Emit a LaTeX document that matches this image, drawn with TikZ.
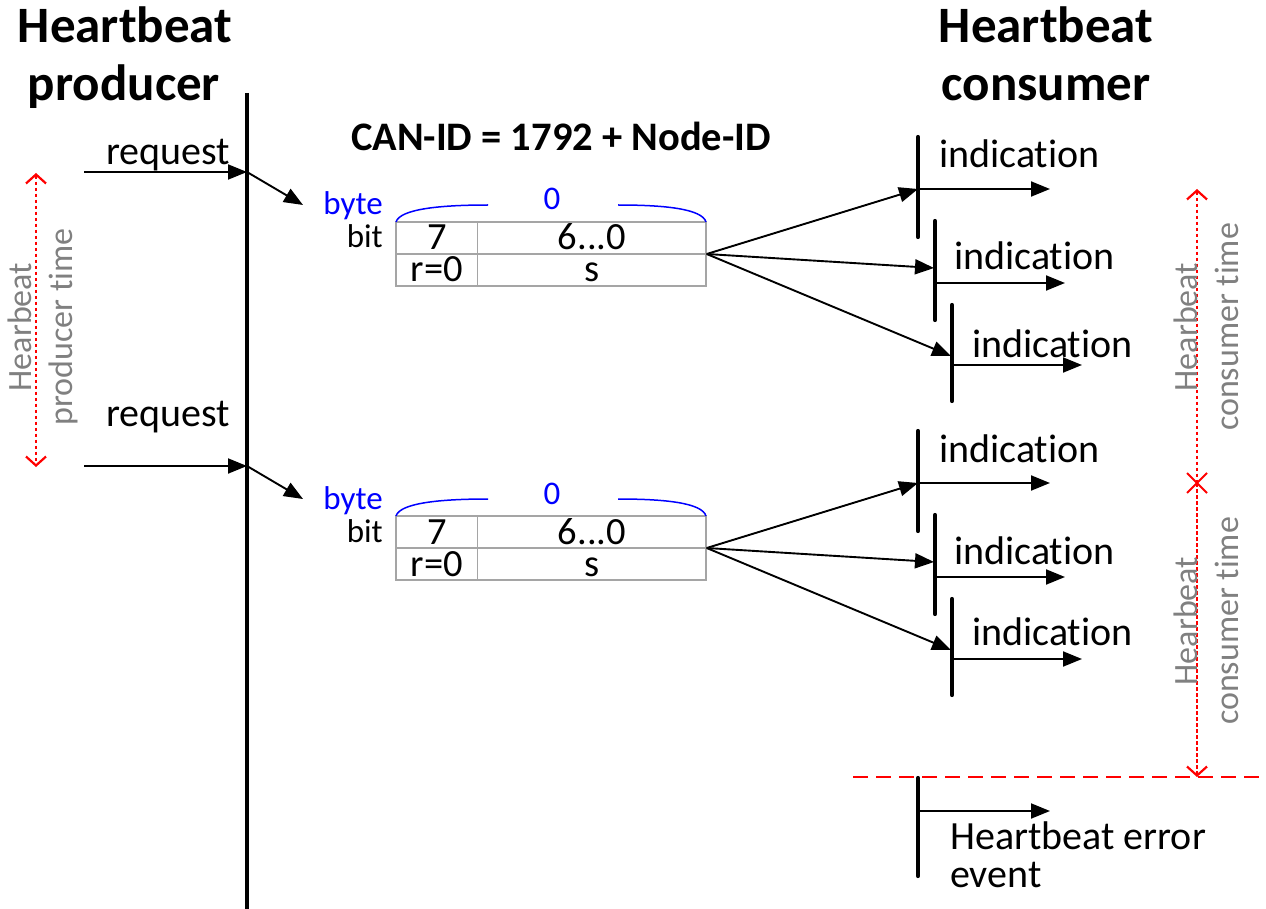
\documentclass[tikz,border=0pt]{standalone}
\usepackage{fontspec}
\setmainfont{Carlito}[Ligatures={NoCommon,NoContextual}, Contextuals=NoAlternate]
\usetikzlibrary{arrows.meta}
\definecolor{hbgray}{RGB}{128,128,128}
\definecolor{cellgray}{RGB}{165,165,165}
\definecolor{hbred}{RGB}{255,0,0}
\definecolor{hbblue}{RGB}{0,0,255}
\tikzset{hbbarb/.tip={Straight Barb[length=9pt,width=20pt]}}

\begin{document}
\begin{tikzpicture}[x=1pt,y=-1pt,
  title/.style={font=\fontsize{51}{54}\selectfont\bfseries, inner sep=0pt, anchor=base},
  lbl/.style={font=\fontsize{40}{46}\selectfont, inner sep=0pt},
  small/.style={font=\fontsize{33}{38}\selectfont, inner sep=0pt},
  celltext/.style={font=\fontsize{38.5}{44}\selectfont, inner sep=0pt, anchor=base, text height=22pt, text depth=0pt},
  dimtext/.style={font=\fontsize{34}{41}\selectfont, text=hbgray, align=center, rotate=90, inner sep=0pt},
  msg/.style={line width=1.9pt, -{Triangle[length=19pt,width=15pt]}},
  lifeline/.style={line width=4.2pt, line cap=round},
  cellframe/.style={draw=cellgray, line width=1.4pt, inner sep=0pt},
  cellline/.style={draw=cellgray, line width=1.4pt},
  bracket/.style={draw=hbblue, line width=1.5pt},
  span/.style={draw=hbred, line width=2.2pt, dash pattern=on 3.5pt off 2.5pt},
]
\useasboundingbox (0,0) rectangle (1266,909);

% column titles
\node[title] (ptitle1) at (125,43) {Heartbeat};
\node[title] (ptitle2) at (124,101) {producer};
\node[title] (ctitle1) at (1046,43) {Heartbeat};
\node[title] (ctitle2) at (1046,101) {consumer};

\node[font=\fontsize{40.5}{46}\selectfont\bfseries, inner sep=0pt, anchor=base] (canid) at (561,151) {CAN-ID = 1792 + Node-ID};

% producer lifeline
\coordinate (ptop) at (247,93);
\coordinate (pbot) at (247,909);
\draw[line width=4pt] (ptop) -- (pbot);

% two heartbeat cycles
\foreach \g/\dy/\dq/\dl in {1/0/165/0, 2/294/426/288} {
  \coordinate (req\g) at (84,172+\dy);
  \coordinate (prod\g) at (247,172+\dy);
  \coordinate (send\g) at (303,205+\dy);
  \draw[msg] (req\g) -- (prod\g);
  \draw[msg] (prod\g) -- (send\g);
  \node[lbl, anchor=base] (reqlbl\g) at (168,\dq) {request};

  % frame layout
  \node[small, anchor=base east, text=hbblue] (byte\g) at (383,215+\dy) {byte};
  \node[small, anchor=base east] (bit\g) at (383,248+\dy) {bit};
  \node[cellframe, minimum width=310pt, minimum height=64pt] (frame\g) at (551,254+\dy) {};
  \draw[cellline] (frame\g.west) -- (frame\g.east);
  \draw[cellline] ([xshift=82pt]frame\g.north west) -- ([xshift=82pt]frame\g.south west);
  \node[celltext] (b7\g) at (437,250+\dy) {7};
  \node[celltext] (b60\g) at (592,250+\dy) {6...0};
  \node[celltext] (r0\g) at (437,282+\dy) {r=0};
  \node[celltext] (st\g) at (592,282+\dy) {s};
  \draw[bracket] (396,222+\dy) .. controls (400,209+\dy) and (440,205+\dy) .. (488,205+\dy);
  \draw[bracket] (618,205+\dy) .. controls (666,205+\dy) and (702,209+\dy) .. (706,222+\dy);
  \node[small, anchor=base, text=hbblue] (byteno\g) at (552,210+\dy) {0};

  % consumer lifelines
  \draw[lifeline] (918,137+\dy) -- (918,237+\dy);
  \draw[lifeline] (935,221+\dy) -- (935,320+\dy);
  \draw[lifeline] (952,305+\dy) -- (952,401+\dy);

  \coordinate (hitA\g) at (918,189+\dy);
  \coordinate (hitB\g) at (934,268+\dy);
  \coordinate (hitC\g) at (951,356+\dy);
  \coordinate (fromB\g) at (935,283+\dy);
  \coordinate (fromC\g) at (952,365+\dy);
  \coordinate (outA\g) at (1050,189+\dy);
  \coordinate (outB\g) at (1065,283+\dy);
  \coordinate (outC\g) at (1082,365+\dy);

  \draw[msg] (frame\g.east) -- (hitA\g);
  \draw[msg] (frame\g.east) -- (hitB\g);
  \draw[msg] (frame\g.east) -- (hitC\g);
  \draw[msg] (hitA\g) -- (outA\g);
  \draw[msg] (fromB\g) -- (outB\g);
  \draw[msg] (fromC\g) -- (outC\g);

  \node[lbl, anchor=base west] (indA\g) at (939,168+\dy) {indication};
  \node[lbl, anchor=base west] (indB\g) at (954,270+\dy) {indication};
  \node[lbl, anchor=base west] (indC\g) at (972,357+\dl) {indication};
}

% producer time span
\coordinate (pt1) at (36,173);
\coordinate (pt2) at (36,467);
\draw[span, {hbbarb}-{hbbarb}] (pt1) -- (pt2);
\node[dimtext] (ptime) at (43,327) {Hearbeat\\producer time};

% consumer time spans
\coordinate (ct1) at (1197,189);
\coordinate (ct2) at (1197,483);
\coordinate (ct3) at (1197,777);
\draw[span, {hbbarb}-] (ct1) -- (ct2);
\draw[span, -{hbbarb}] (ct2) -- (ct3);
\draw[hbred, line width=2pt] ([shift={(-10pt,-10pt)}]ct2) -- ([shift={(10pt,10pt)}]ct2);
\draw[hbred, line width=2pt] ([shift={(-10pt,10pt)}]ct2) -- ([shift={(10pt,-10pt)}]ct2);
\node[dimtext] (ctimeA) at (1206,327) {Hearbeat\\consumer time};
\node[dimtext] (ctimeB) at (1206,621) {Hearbeat\\consumer time};

% timeout limit and error event
\coordinate (lim1) at (853,777);
\coordinate (lim2) at (1266,777);
\draw[hbred, line width=1.5pt, dash pattern=on 15pt off 8pt] (lim1) -- (lim2);
\draw[lifeline] (918,778) -- (918,876);
\coordinate (errA) at (918,811);
\coordinate (errB) at (1050,811);
\draw[msg] (errA) -- (errB);
\node[lbl, anchor=base west] (err1) at (950,849) {Heartbeat error};
\node[lbl, anchor=base west] (err2) at (950,887) {event};
\end{tikzpicture}
\end{document}
